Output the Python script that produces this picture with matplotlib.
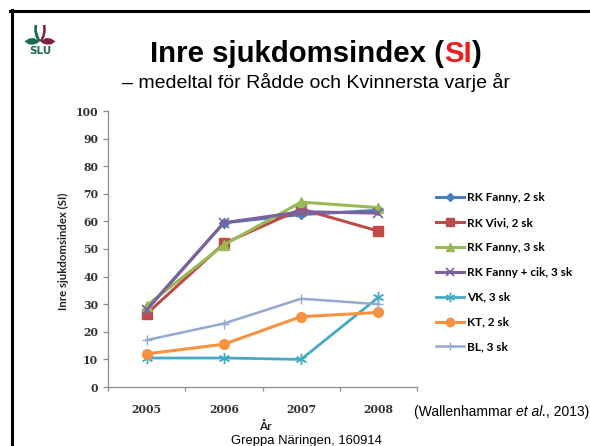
import matplotlib
matplotlib.use("Agg")
import matplotlib.pyplot as plt
from matplotlib.lines import Line2D
from matplotlib.patches import Polygon

# ---------------- data ----------------
years = ["2005", "2006", "2007", "2008"]
series_names = ["RK Fanny, 2 sk", "RK Vivi, 2 sk", "RK Fanny, 3 sk",
                "RK Fanny + cik, 3 sk", "VK, 3 sk", "KT, 2 sk", "BL, 3 sk"]
rk_fanny_2 = [28.0, 59.5, 62.5, 64.0]
rk_vivi_2 = [26.5, 52.0, 64.5, 56.5]
rk_fanny_3 = [29.5, 51.5, 67.0, 65.0]
rk_fanny_cik_3 = [28.0, 59.5, 63.5, 63.0]
vk_3 = [10.5, 10.5, 10.0, 32.5]
kt_2 = [12.0, 15.5, 25.5, 27.0]
bl_3 = [17.0, 23.0, 32.0, 30.0]
y_ticks = [0, 10, 20, 30, 40, 50, 60, 70, 80, 90, 100]

W, H = 590, 446
fig = plt.figure(figsize=(W / 100, H / 100), dpi=100)
fig.patch.set_facecolor("white")


def fx(x):
    return x / W


def fy(y):
    return 1 - y / H


# ---------------- axes ----------------
ax = fig.add_axes([fx(108), fy(387), (417 - 108) / W, (387 - 111) / H])
xs = list(range(len(years)))

styles = [
    dict(color="#4A7EBB", marker="D", ms=5, lw=2.2),
    dict(color="#BE4B48", marker="s", ms=7, lw=2.2),
    dict(color="#98B954", marker="^", ms=7, lw=2.2),
    dict(color="#7D60A0", marker="x", ms=7, mew=1.2, lw=2.2),
    dict(color="#46AAC5", marker=(6, 2, 0), ms=8, mew=1.0, lw=2.0),
    dict(color="#F69240", marker="o", ms=7, lw=2.2),
    dict(color="#93A9CF", marker="+", ms=7, mew=1.0, lw=1.8),
]
all_series = [rk_fanny_2, rk_vivi_2, rk_fanny_3, rk_fanny_cik_3, vk_3, kt_2, bl_3]
handles = []
for name, vals, st in zip(series_names, all_series, styles):
    h, = ax.plot(xs, vals, label=name, **st)
    handles.append(h)

ax.set_xlim(-0.5, len(years) - 0.5)
ax.set_ylim(0, 100)
ax.set_yticks(y_ticks)
ax.set_xticks(xs)
ax.set_xticklabels(years)
ax.set_xticks([i - 0.5 for i in range(len(years) + 1)], minor=True)
for s in ["top", "right"]:
    ax.spines[s].set_visible(False)
for s in ["left", "bottom"]:
    ax.spines[s].set_color("#8C8C8C")
    ax.spines[s].set_linewidth(0.9)
ax.tick_params(axis="y", length=3.6, color="#8C8C8C", width=0.9, pad=3.5,
               labelcolor="#333333")
ax.tick_params(axis="x", which="major", length=0, pad=12, labelcolor="#333333")
ax.tick_params(axis="x", which="minor", length=3.2, color="#8C8C8C", width=0.9)
for lab in ax.get_yticklabels() + ax.get_xticklabels():
    lab.set_fontfamily("DejaVu Serif")
    lab.set_fontweight("bold")
    lab.set_fontsize(7.8)

fig.text(fx(63), fy(251), "Inre sjukdomsindex (SI)", rotation=90,
         ha="center", va="center", family="Lato", weight="bold", size=8.2,
         color="#222222")
fig.text(fx(265), fy(426), "År", ha="center", va="center", family="Lato",
         weight="bold", size=8.5, color="#222222")

# ---------------- legend ----------------
fig.legend(handles=handles, loc="upper left",
           bbox_to_anchor=(fx(436), fy(192)), frameon=False,
           prop=dict(family="Lato", weight="bold", size=8.5),
           handlelength=2.4, handletextpad=0.25, labelspacing=1.18,
           borderpad=0, borderaxespad=0, markerscale=0.85)

# ---------------- titles ----------------
renderer = fig.canvas.get_renderer()
title_font = dict(family="Liberation Sans", weight="bold", size=21.2)
x0 = fx(150)
yb = fy(61.5)
parts = [("Inre sjukdomsindex (", "black"), ("SI", "#EE1C1C"), (")", "black")]
for txt, col in parts:
    t = fig.text(x0, yb, txt, ha="left", va="baseline", color=col, **title_font)
    bb = t.get_window_extent(renderer=renderer)
    x0 = bb.x1 / fig.bbox.width

fig.text(fx(316), fy(88), "– medeltal för Rådde och Kvinnersta varje år",
         ha="center", va="baseline", family="Liberation Sans", size=14.0,
         color="black")

foot_font = dict(family="Liberation Sans", size=10, color="black")
t1 = fig.text(fx(414), fy(412), "(Wallenhammar ", ha="left", va="center",
              **foot_font)
bb = t1.get_window_extent(renderer=renderer)
t2 = fig.text(bb.x1 / W, fy(412), "et al.", ha="left", va="center",
              style="italic", **foot_font)
bb = t2.get_window_extent(renderer=renderer)
fig.text(bb.x1 / W, fy(412), ", 2013)", ha="left", va="center", **foot_font)

fig.text(fx(306), fy(441), "Greppa Näringen, 160914", ha="center",
         va="center", family="Liberation Sans", size=9.4, color="black")

# ---------------- frame ----------------
fig.add_artist(Line2D([fx(10), fx(590)], [fy(10.5), fy(10.5)],
                      color="black", lw=2.2, transform=fig.transFigure))
fig.add_artist(Line2D([fx(11.5), fx(11.5)], [fy(10), fy(446)],
                      color="black", lw=2.2, transform=fig.transFigure))

# ---------------- SLU logo ----------------
green = "#1A6B4F"
red = "#7A2438"


def pxpoly(pts, color):
    p = Polygon([(fx(a), fy(b)) for a, b in pts], closed=True,
                transform=fig.transFigure, facecolor=color, edgecolor="none")
    fig.add_artist(p)


# left leaf (green)
pxpoly([(39, 41), (34, 38), (29, 38.5), (24.5, 41.5), (29, 44.5), (34, 44.5), (38, 43)], green)
# right leaf (red)
pxpoly([(41, 41), (46, 38), (51, 38.5), (55.5, 41.5), (51, 44.5), (46, 44.5), (42, 43)], red)
# stems
pxpoly([(34.5, 25), (37, 25), (37, 31), (38.5, 36), (40.5, 41), (38.5, 42), (35.5, 37), (34.2, 31)], green)
pxpoly([(43, 25), (45.5, 25), (45.8, 31), (44.5, 37), (41.5, 42), (39.5, 41), (42.2, 36), (43.2, 31)], red)
fig.text(fx(40), fy(51.5), "SLU", ha="center", va="center", family="DejaVu Sans",
         weight="bold", size=7.5, color=green)

fig.savefig("out.png", dpi=100, facecolor="white")
